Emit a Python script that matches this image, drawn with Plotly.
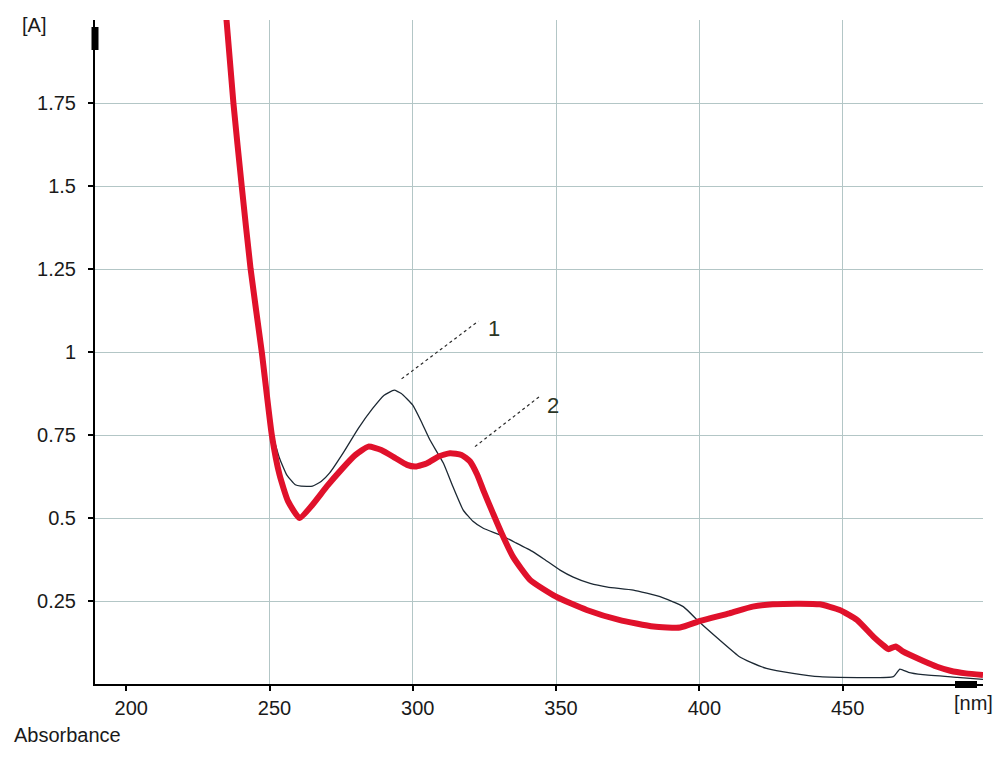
import plotly.graph_objects as go

# Curve 1 (thin dark line)
nm_1 = [235.4, 237.8, 240.7, 243.8, 247.7, 251.2, 253.5, 256, 259, 261, 265, 268, 271, 276, 281,
        286, 290, 293.5, 296, 300, 303, 306, 310.7, 314, 317.6, 321, 324.6, 330.5, 336, 342,
        346, 351.4, 356, 361.9, 368, 377, 386.3, 394.4, 400.2, 407, 414, 418, 423.4, 432.7,
        442, 467.7, 470, 473, 478, 490, 499]
abs_1 = [2.02, 1.75, 1.5, 1.25, 1.0, 0.75, 0.68, 0.63, 0.60, 0.596, 0.596, 0.61, 0.636, 0.70, 0.77,
         0.83, 0.87, 0.885, 0.875, 0.84, 0.79, 0.735, 0.665, 0.595, 0.524, 0.49, 0.469, 0.449, 0.425, 0.398,
         0.375, 0.343, 0.322, 0.303, 0.292, 0.283, 0.263, 0.233, 0.185, 0.133, 0.082, 0.065, 0.047, 0.032,
         0.022, 0.022, 0.045, 0.035, 0.028, 0.020, 0.014]

# Curve 2 (thick red line)
nm_2 = [234.8, 237.4, 240.3, 243.4, 247.3, 250.8, 253.5, 256.5, 260.5, 265, 270, 275, 280, 284.5,
        289, 294, 298, 301, 305, 309, 313, 317, 320, 322.5, 324.6, 328, 331, 335, 341, 350,
        360.7, 372, 384, 393.3, 400.3, 410.5, 418.6, 425.6, 435, 442, 449, 455, 460.8, 464,
        466, 468.5, 471, 478, 483, 487.6, 493, 499]
abs_2 = [2.02, 1.75, 1.5, 1.25, 1.0, 0.75, 0.63, 0.55, 0.50, 0.54, 0.595, 0.645, 0.69, 0.715,
         0.705, 0.68, 0.66, 0.655, 0.665, 0.685, 0.695, 0.69, 0.67, 0.63, 0.584, 0.514, 0.454, 0.383, 0.313, 0.263,
         0.223, 0.193, 0.173, 0.170, 0.190, 0.213, 0.233, 0.240, 0.242, 0.240, 0.223, 0.193, 0.142, 0.118,
         0.105, 0.113, 0.098, 0.070, 0.052, 0.040, 0.032, 0.027]

x_ticks = [200, 250, 300, 350, 400, 450]
x_grid = [250, 300, 350, 400, 450]
y_ticks = [0.25, 0.5, 0.75, 1.0, 1.25, 1.5, 1.75]
y_tick_text = ["0.25", "0.5", "0.75", "1", "1.25", "1.5", "1.75"]

GRID = "#b3c6c6"
FONT = "Liberation Sans, Arial, sans-serif"

fig = go.Figure()
fig.add_trace(go.Scatter(x=nm_1, y=abs_1, mode="lines",
                         line=dict(color="#1c2833", width=1.3, shape="spline", smoothing=0.4),
                         showlegend=False))
fig.add_trace(go.Scatter(x=nm_2, y=abs_2, mode="lines",
                         line=dict(color="#e0112b", width=6, shape="spline", smoothing=0.5),
                         showlegend=False))

fig.update_layout(
    width=1001, height=759,
    margin=dict(l=95, r=18, t=20, b=75),
    paper_bgcolor="white", plot_bgcolor="white",
    font=dict(family=FONT, size=20, color="#1a1a1a"),
    xaxis=dict(range=[189.1, 499], tickvals=x_ticks, showgrid=False, zeroline=False,
               showline=True, linecolor="black", linewidth=2,
               ticks="outside", ticklen=5, tickcolor="black", tickwidth=1.5,
               ticklabelshift=5,
               minor=dict(tickvals=x_grid, showgrid=True, gridcolor=GRID, gridwidth=1, ticklen=0)),
    yaxis=dict(range=[0, 2], tickvals=y_ticks, ticktext=y_tick_text, showgrid=True,
               gridcolor=GRID, gridwidth=1, zeroline=False,
               showline=True, linecolor="black", linewidth=2,
               ticks="outside", ticklen=5, tickcolor="black", tickwidth=1.5,
               ticklabelstandoff=8,
               minor=dict(tickvals=[2.0], showgrid=True, gridcolor=GRID, gridwidth=1, ticklen=0)),
)

# Leader lines for labels 1 and 2
fig.add_shape(type="line", xref="x", yref="y", x0=296.1, y0=0.919, x1=322.9, y1=1.093,
              line=dict(color="#2a2a2a", width=1.2, dash="dot"))
fig.add_shape(type="line", xref="x", yref="y", x0=321.7, y0=0.715, x1=344.4, y1=0.867,
              line=dict(color="#2a2a2a", width=1.2, dash="dot"))
fig.add_annotation(x=328.2, y=1.072, xref="x", yref="y", text="1", showarrow=False,
                   font=dict(size=22, color="#2b3524", family=FONT))
fig.add_annotation(x=349.0, y=0.840, xref="x", yref="y", text="2", showarrow=False,
                   font=dict(size=22, color="#2b3524", family=FONT))

# Axis arrow at top of y axis and thick end of x axis
fig.add_shape(type="rect", xref="paper", yref="paper", xsizemode="pixel", ysizemode="pixel",
              xanchor=0, yanchor=1, x0=-3.5, x1=3.5, y0=-7, y1=-30,
              fillcolor="black", line=dict(width=0))
fig.add_shape(type="rect", xref="paper", yref="paper", xsizemode="pixel", ysizemode="pixel",
              xanchor=1, yanchor=0, x0=-28, x1=-6, y0=3, y1=-4,
              fillcolor="black", line=dict(width=0))

fig.add_annotation(x=0, y=1, xref="paper", yref="paper", xanchor="right", yanchor="middle",
                   xshift=-47, yshift=-5, text="[A]", showarrow=False,
                   font=dict(size=20, family=FONT, color="#1a1a1a"))
fig.add_annotation(x=1, y=0, xref="paper", yref="paper", xanchor="center", yanchor="middle",
                   xshift=-10, yshift=-19, text="[nm]", showarrow=False,
                   font=dict(size=20, family=FONT, color="#1a1a1a"))
fig.add_annotation(x=0, y=0, xref="paper", yref="paper", xanchor="left", yanchor="middle",
                   xshift=-83, yshift=-51, text="Absorbance", showarrow=False,
                   font=dict(size=20, family=FONT, color="#1a1a1a"))

fig.write_html("out.html", config={"displayModeBar": False},
               post_script="document.body.style.margin='0';document.body.style.overflow='hidden';")
